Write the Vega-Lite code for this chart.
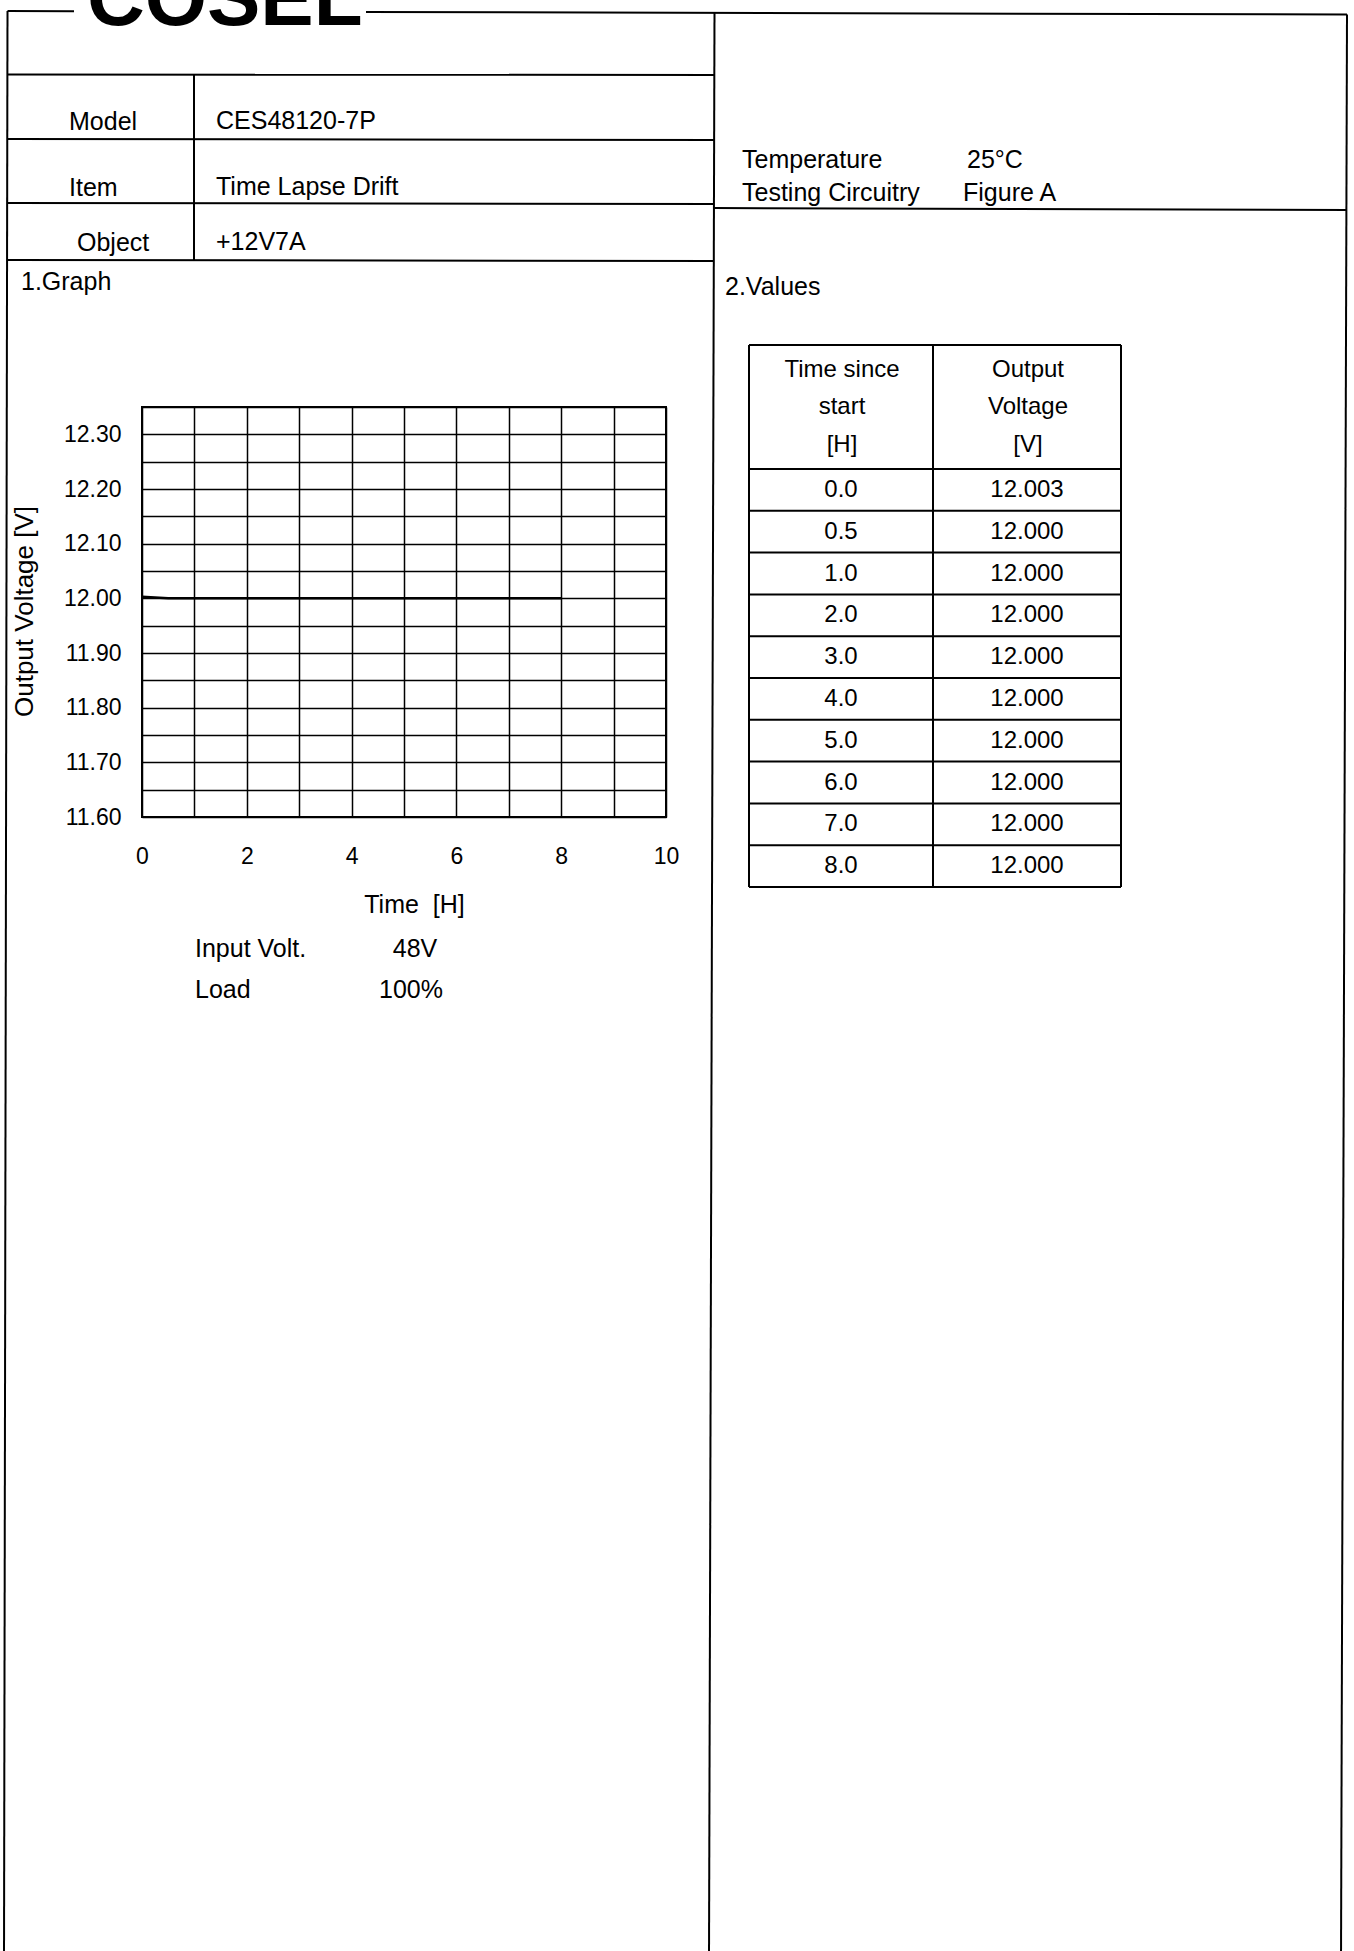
{
  "$schema": "https://vega.github.io/schema/vega-lite/v6.json",
  "description": "COSEL test report sheet: CES48120-7P, +12V7A output, time lapse drift over 8 hours at 25°C.",
  "width": 524,
  "height": 410,
  "autosize": {"type": "none"},
  "padding": {"left": 142, "top": 407, "right": 688, "bottom": 1134},
  "background": "white",
  "datasets": {
    "drift": [
      {"hours": 0.0, "volts": 12.003},
      {"hours": 0.5, "volts": 12.000},
      {"hours": 1.0, "volts": 12.000},
      {"hours": 2.0, "volts": 12.000},
      {"hours": 3.0, "volts": 12.000},
      {"hours": 4.0, "volts": 12.000},
      {"hours": 5.0, "volts": 12.000},
      {"hours": 6.0, "volts": 12.000},
      {"hours": 7.0, "volts": 12.000},
      {"hours": 8.0, "volts": 12.000}
    ],
    "frame": [
      {"part": "top border left", "px": 7.5, "py": 11, "px2": 74, "py2": 11.2},
      {"part": "top border right", "px": 366, "py": 12, "px2": 1347, "py2": 14.5},
      {"part": "left border", "px": 7.5, "py": 11, "px2": 4, "py2": 1960},
      {"part": "column divider", "px": 714.5, "py": 12, "px2": 709, "py2": 1960},
      {"part": "right border", "px": 1347, "py": 14.5, "px2": 1341, "py2": 1960},
      {"part": "logo row bottom", "px": 7.5, "py": 74.5, "px2": 714, "py2": 75},
      {"part": "model row bottom", "px": 7.5, "py": 139, "px2": 714, "py2": 140},
      {"part": "item row bottom", "px": 7.5, "py": 203, "px2": 714, "py2": 204},
      {"part": "object row bottom", "px": 7.5, "py": 260, "px2": 714, "py2": 261},
      {"part": "header divider", "px": 194, "py": 74.5, "px2": 194, "py2": 260.5},
      {"part": "conditions bottom", "px": 714, "py": 208, "px2": 1347, "py2": 210},
      {"part": "table left", "px": 749, "py": 345, "px2": 749, "py2": 887},
      {"part": "table middle", "px": 933, "py": 345, "px2": 933, "py2": 887},
      {"part": "table right", "px": 1121, "py": 345, "px2": 1121, "py2": 887},
      {"part": "table top", "px": 749, "py": 345, "px2": 1121, "py2": 345},
      {"part": "table head", "px": 749, "py": 469, "px2": 1121, "py2": 469},
      {"part": "row 1", "px": 749, "py": 510.8, "px2": 1121, "py2": 510.8},
      {"part": "row 2", "px": 749, "py": 552.6, "px2": 1121, "py2": 552.6},
      {"part": "row 3", "px": 749, "py": 594.4, "px2": 1121, "py2": 594.4},
      {"part": "row 4", "px": 749, "py": 636.2, "px2": 1121, "py2": 636.2},
      {"part": "row 5", "px": 749, "py": 678, "px2": 1121, "py2": 678},
      {"part": "row 6", "px": 749, "py": 719.8, "px2": 1121, "py2": 719.8},
      {"part": "row 7", "px": 749, "py": 761.6, "px2": 1121, "py2": 761.6},
      {"part": "row 8", "px": 749, "py": 803.4, "px2": 1121, "py2": 803.4},
      {"part": "row 9", "px": 749, "py": 845.2, "px2": 1121, "py2": 845.2},
      {"part": "table bottom", "px": 749, "py": 887, "px2": 1121, "py2": 887}
    ],
    "formText": [
      {"text": "Model", "px": 69, "py": 130},
      {"text": "CES48120-7P", "px": 216, "py": 129},
      {"text": "Item", "px": 69, "py": 196},
      {"text": "Time Lapse Drift", "px": 216, "py": 195},
      {"text": "Object", "px": 77, "py": 251},
      {"text": "+12V7A", "px": 216, "py": 250},
      {"text": "1.Graph", "px": 21, "py": 290},
      {"text": "Temperature", "px": 742, "py": 167.5},
      {"text": "25°C", "px": 967, "py": 167.5},
      {"text": "Testing Circuitry", "px": 742, "py": 200.5},
      {"text": "Figure A", "px": 963, "py": 200.5},
      {"text": "2.Values", "px": 725, "py": 295},
      {"text": "Input Volt.", "px": 195, "py": 957},
      {"text": "Load", "px": 195, "py": 998}
    ],
    "centredText": [
      {"text": "48V", "px": 415, "py": 957},
      {"text": "100%", "px": 411, "py": 998}
    ],
    "tableHead": [
      {"text": "Time since", "px": 842, "py": 377},
      {"text": "start", "px": 842, "py": 413.5},
      {"text": "[H]", "px": 842, "py": 451.5},
      {"text": "Output", "px": 1028, "py": 377},
      {"text": "Voltage", "px": 1028, "py": 413.5},
      {"text": "[V]", "px": 1028, "py": 451.5}
    ],
    "logo": [
      {"text": "COSEL", "px": 87, "py": 25}
    ]
  },
  "layer": [
    {
      "data": {"name": "drift"},
      "mark": {"type": "line", "color": "black", "strokeWidth": 2.5},
      "encoding": {
        "x": {
          "field": "hours",
          "type": "quantitative",
          "scale": {"domain": [0, 10], "nice": false, "zero": false},
          "axis": {
            "values": [0, 1, 2, 3, 4, 5, 6, 7, 8, 9, 10],
            "labelExpr": "datum.value % 2 === 0 ? datum.label : ''",
            "grid": true,
            "gridColor": "black",
            "gridOpacity": 1,
            "gridWidth": 1.5,
            "domain": false,
            "ticks": false,
            "labelPadding": 46,
            "labelBaseline": "alphabetic",
            "labelFontSize": 23,
            "labelColor": "black",
            "labelFlush": false,
            "labelOverlap": false,
            "title": "Time \u00a0[H]",
            "titleFontSize": 25,
            "titleFontWeight": "normal",
            "titleColor": "black",
            "titleX": 272,
            "titleY": 95,
            "titleAlign": "center",
            "titleBaseline": "alphabetic"
          }
        },
        "y": {
          "field": "volts",
          "type": "quantitative",
          "scale": {"domain": [11.6, 12.35], "nice": false, "zero": false},
          "axis": {
            "values": [11.6, 11.65, 11.7, 11.75, 11.8, 11.85, 11.9, 11.95, 12.0, 12.05, 12.1, 12.15, 12.2, 12.25, 12.3, 12.35],
            "labelExpr": "abs(round(datum.value * 100)) % 10 === 0 ? format(datum.value, '.2f') : ''",
            "grid": true,
            "gridColor": "black",
            "gridOpacity": 1,
            "gridWidth": 1.5,
            "domain": false,
            "ticks": false,
            "labelPadding": 21,
            "labelFontSize": 23,
            "labelColor": "black",
            "labelFlush": false,
            "labelOverlap": false,
            "title": "Output Voltage [V]",
            "titleFontSize": 26,
            "titleFontWeight": "normal",
            "titleColor": "black",
            "titleAngle": -90,
            "titleX": -110,
            "titleY": 204,
            "titleAlign": "center",
            "titleBaseline": "alphabetic"
          }
        }
      }
    },
    {
      "encoding": {
        "x": {"field": "px", "type": "quantitative", "scale": {"domain": [142, 666], "nice": false, "zero": false}, "axis": null},
        "y": {"field": "py", "type": "quantitative", "scale": {"domain": [407, 817], "nice": false, "zero": false, "reverse": true}, "axis": null}
      },
      "layer": [
        {
          "data": {"name": "frame"},
          "mark": {"type": "rule", "color": "black", "strokeWidth": 2},
          "encoding": {"x2": {"field": "px2"}, "y2": {"field": "py2"}}
        },
        {
          "data": {"name": "formText"},
          "mark": {"type": "text", "align": "left", "baseline": "alphabetic", "fontSize": 25, "color": "black"},
          "encoding": {"text": {"field": "text"}}
        },
        {
          "data": {"name": "centredText"},
          "mark": {"type": "text", "align": "center", "baseline": "alphabetic", "fontSize": 25, "color": "black"},
          "encoding": {"text": {"field": "text"}}
        },
        {
          "data": {"name": "tableHead"},
          "mark": {"type": "text", "align": "center", "baseline": "alphabetic", "fontSize": 24, "color": "black"},
          "encoding": {"text": {"field": "text"}}
        },
        {
          "data": {"name": "logo"},
          "mark": {"type": "text", "align": "left", "baseline": "alphabetic", "fontSize": 80, "fontWeight": "bold", "color": "black"},
          "encoding": {"text": {"field": "text"}}
        }
      ]
    },
    {
      "data": {"name": "drift"},
      "encoding": {
        "y": {"field": "hours", "type": "ordinal", "scale": {"type": "band", "range": [62, 480], "paddingInner": 0, "paddingOuter": 0}, "axis": null}
      },
      "layer": [
        {
          "mark": {"type": "text", "align": "center", "baseline": "middle", "fontSize": 24, "color": "black"},
          "encoding": {
            "x": {"datum": 841, "type": "quantitative", "scale": {"domain": [142, 666], "nice": false, "zero": false}, "axis": null},
            "text": {"field": "hours", "type": "quantitative", "format": ".1f"}
          }
        },
        {
          "mark": {"type": "text", "align": "center", "baseline": "middle", "fontSize": 24, "color": "black"},
          "encoding": {
            "x": {"datum": 1027, "type": "quantitative", "scale": {"domain": [142, 666], "nice": false, "zero": false}, "axis": null},
            "text": {"field": "volts", "type": "quantitative", "format": ".3f"}
          }
        }
      ]
    }
  ],
  "resolve": {"scale": {"x": "independent", "y": "independent"}},
  "config": {
    "font": "Liberation Sans",
    "view": {"stroke": "black", "strokeWidth": 2},
    "axis": {"labelFont": "Liberation Sans", "titleFont": "Liberation Sans"},
    "text": {"font": "Liberation Sans"}
  }
}
